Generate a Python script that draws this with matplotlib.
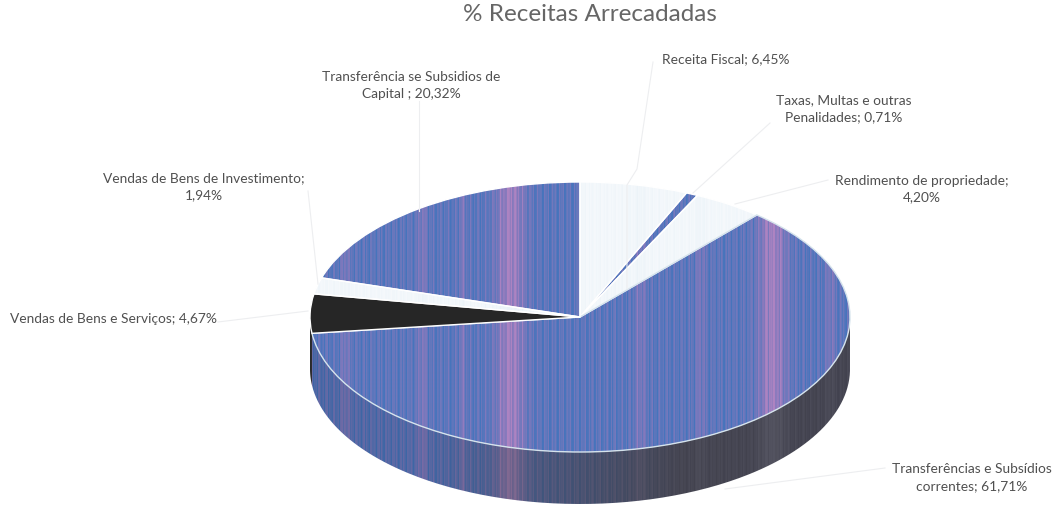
#!/usr/bin/env python3
"""Pseudo 3D pie of % Receitas Arrecadadas, scanned look with vertical stripes."""

import numpy as np
import matplotlib
matplotlib.use("Agg")
import matplotlib.pyplot as plt
from matplotlib.colors import LinearSegmentedColormap
from matplotlib.patches import PathPatch
from matplotlib.path import Path

# data, clockwise from 12 o'clock
VALUES = [6.45, 0.71, 4.20, 61.71, 4.67, 1.94, 20.32]
LABELS = [
    "Receita Fiscal; 6,45%",
    "Taxas, Multas e outras\nPenalidades; 0,71%",
    "Rendimento de propriedade;\n4,20%",
    "Transferências e Subsídios\ncorrentes; 61,71%",
    "Vendas de Bens e Serviços; 4,67%",
    "Vendas de Bens de Investimento;\n1,94%",
    "Transferência se Subsidios de\nCapital ; 20,32%",
]
KINDS = ["light", "blue", "light", "blue", "black", "light", "blue"]
TITLE = "% Receitas Arrecadadas"

# label centres and leader lines, in pixels
LABEL_POS = [(726, 59), (844, 109), (922, 189), (972, 478), (113, 319), (204, 187), (411, 85)]
LEADERS = [
    [(653, 63), (637, 170), (627, 186), (627, 290)],
    [(770, 124), (693, 194)],
    [(828, 181), (735, 205)],
    [(885, 469), (725, 490)],
    [(218, 323), (308, 312)],
    [(308, 192), (318, 285)],
    [(419, 102), (419, 212)],
]

W, H = 1057, 506
CX, CY, RX, RY, DEPTH = 580, 318, 270, 135, 52
K = RY / RX   # pixels per data unit in y

# stripe texture, same columns for every slice
x = np.arange(W)
bands = [(510, 14, 0.7), (772, 14, 0.7), (422, 5, 0.35), (640, 6, 0.3),
         (345, 5, 0.3), (700, 5, 0.3), (830, 5, 0.3), (462, 4, 0.3)]
t = sum(a * np.exp(-((x - c) / s) ** 2) for c, s, a in bands)
t = t + 0.16 * np.sin(x * 1.7) + 0.12 * np.sin(x * 0.83 + 1) + 0.10 * np.sin(x * 2.9 + 2) + 0.22
t = np.clip(t, 0, 1)
cmap = LinearSegmentedColormap.from_list(
    "stripes", ["#4674BC", "#6A78BC", "#8479BC", "#AE84C2"])
blue = cmap(t)[:, :3]
light = np.array([0.97, 0.98, 0.99]) - (0.07 * t)[:, None] * np.array([1.0, 0.6, 0.4])
light = light * 0.6 + np.array([0.95, 0.97, 0.985]) * 0.4

# side wall: stripes dimmed and going to dark grey on the right
g = np.clip((x - 420) / 260, 0, 1)[:, None]
side = blue * 0.88 * (1 - g) + np.array([0.28, 0.28, 0.33]) * g
side = side + (g * 0.07 * (t[:, None] - 0.3))


def stripe_image(ax, colors, ymin, ymax, zorder):
    return ax.imshow(colors[None, :, :], extent=(0, W, ymin, ymax), aspect="auto",
                     interpolation="bilinear", zorder=zorder)


fig = plt.figure(figsize=(W / 100, H / 100), dpi=100, facecolor="white")
ax = fig.add_axes([0, 0, 1, 1])
ymax = CY / K
ymin = -(H - CY) / K

wedges, _ = ax.pie(VALUES, center=(CX, 0), radius=RX, startangle=90, counterclock=False,
                   frame=True, wedgeprops=dict(edgecolor="white", linewidth=1.0))

for w, kind in zip(wedges, KINDS):
    # outer wall of the slices facing the viewer
    lo, hi = max(w.theta1, -180), min(w.theta2, 0)
    if lo < hi:
        a = np.radians(np.linspace(lo, hi, 200))
        ax_x = CX + RX * np.cos(a)
        ax_y = RX * np.sin(a)
        xs = np.r_[ax_x, ax_x[::-1]]
        ys = np.r_[ax_y, ax_y[::-1] - DEPTH / K]
        wall = PathPatch(Path(np.c_[xs, ys]), facecolor="none", edgecolor="none",
                         transform=ax.transData)
        ax.add_patch(wall)
        if kind == "black":
            wall.set_facecolor("#2A2A2A")
            wall.set_zorder(1)
        else:
            im = stripe_image(ax, np.clip(side, 0, 1), ymin, ymax, 1.5)
            im.set_clip_path(wall)

    # top face
    if kind == "black":
        w.set_facecolor("#262626")
        w.set_zorder(3)
    else:
        im = stripe_image(ax, blue if kind == "blue" else light, ymin, ymax, 2)
        im.set_clip_path(w)
        w.set_facecolor("none")
        w.set_zorder(3)
    if VALUES[wedges.index(w)] > 50:
        w.set_edgecolor("#D5E3EC")

ax.set_aspect("auto")
ax.set_xlim(0, W)
ax.set_ylim(ymin, ymax)
ax.axis("off")

# overlay in pixel coordinates for text and leader lines
ov = fig.add_axes([0, 0, 1, 1], facecolor="none")
ov.set_xlim(0, W)
ov.set_ylim(H, 0)
ov.axis("off")

for pts in LEADERS:
    ov.plot([p[0] for p in pts], [p[1] for p in pts], color="#EDEEF0", lw=0.8, zorder=4)

ov.text(590, 14, TITLE, fontsize=17.5, color="#666666", ha="center", va="center",
        family="Lato")
for label, (lx, ly) in zip(LABELS, LABEL_POS):
    ov.text(lx, ly, label, fontsize=9.9, color="#505050", ha="center", va="center",
            family="Lato", linespacing=1.5)

fig.savefig("out.png", dpi=100, facecolor="white")
